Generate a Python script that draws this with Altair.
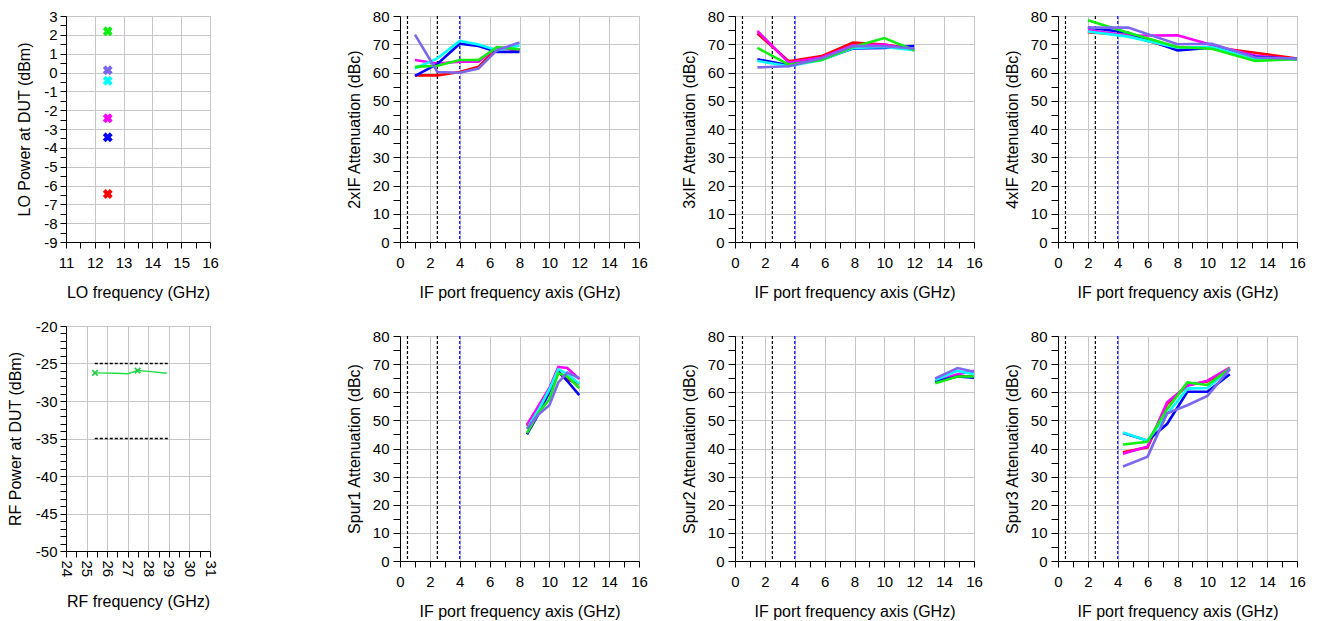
import altair as alt
import pandas as pd

# ---------------- data ----------------
SERIES = ["s1", "s2", "s3", "s4", "s5", "s6"]
COLORS = ["#ff0000", "#ff00ff", "#0000ff", "#00ffff", "#11ee11", "#7b68ee"]

LO_FREQ = [12.45, 12.45, 12.45, 12.45, 12.45, 12.45]
LO_POWER = [-6.45, -2.43, -3.44, -0.44, 2.19, 0.12]

RF_FREQ = [25.41, 26.4, 27.0, 27.48, 28.0, 28.9]
RF_POWER = [-26.25, -26.3, -26.35, -25.95, -26.05, -26.3]
RF_MARK_FREQ = [25.41, 27.48]
RF_MARK_POWER = [-26.25, -25.95]
RF_LIMIT_LEVEL = [-25, -35]
RF_LIMIT_START = [25.4, 25.4]
RF_LIMIT_END = [28.95, 28.95]

VLINE_BLACK = [0.5, 2.5]
VLINE_BLUE = [4]

IF_2X = [1, 2.5, 4, 5.25, 6.5, 8]
ATT_2X = {
    "s1": [59.0, 59.0, 60.2, 62.0, 68.7, 68.0],
    "s2": [64.4, 63.2, 63.8, 63.8, 69.0, 68.0],
    "s3": [58.8, 63.0, 70.2, 69.4, 67.3, 67.3],
    "s4": [61.4, 65.0, 71.2, 69.9, 67.9, 69.6],
    "s5": [62.0, 62.4, 64.4, 64.4, 69.0, 68.2],
    "s6": [73.4, 60.2, 59.9, 61.4, 67.9, 70.6],
}

IF_3X = [1.5, 3.6, 5.8, 7.9, 10, 12]
ATT_3X = {
    "s1": [73.8, 64.0, 65.8, 70.6, 69.9, 68.2],
    "s2": [74.7, 63.5, 65.3, 69.6, 69.9, 67.9],
    "s3": [64.7, 62.6, 64.6, 68.5, 68.7, 69.4],
    "s4": [64.1, 62.2, 64.4, 68.7, 69.0, 67.9],
    "s5": [68.7, 62.8, 64.4, 69.0, 72.2, 67.9],
    "s6": [61.8, 62.2, 65.0, 69.4, 69.3, 68.5],
}

IF_4X = [2, 4.7, 8, 10.3, 13.2, 16]
ATT_4X = {
    "s1": [74.3, 73.2, 68.2, 69.0, 67.0, 64.9],
    "s2": [75.0, 73.0, 73.2, 69.7, 66.0, 64.7],
    "s3": [75.9, 74.1, 67.8, 68.8, 65.6, 64.7],
    "s4": [74.5, 72.7, 68.8, 69.0, 64.9, 64.7],
    "s5": [78.5, 74.1, 69.0, 68.4, 64.1, 64.7],
    "s6": [75.9, 75.9, 70.0, 70.2, 65.3, 64.9],
}

IF_SPUR1 = [8.5, 9.25, 10, 10.6, 11.2, 12]
ATT_SPUR1 = {
    "s1": [48.0, 54.5, 61.0, 67.0, 64.5, 63.0],
    "s2": [48.5, 55.0, 61.5, 69.0, 68.6, 64.7],
    "s3": [45.0, 52.0, 60.0, 67.5, 64.0, 59.0],
    "s4": [47.0, 53.5, 61.0, 68.2, 66.5, 63.0],
    "s5": [45.5, 52.5, 57.5, 66.8, 65.6, 61.5],
    "s6": [47.0, 52.0, 55.4, 63.5, 67.0, 65.0],
}

IF_SPUR2 = [13.4, 14.9, 16]
ATT_SPUR2 = {
    "s1": [63.8, 65.8, 65.6],
    "s2": [64.0, 66.4, 67.6],
    "s3": [63.8, 65.6, 65.2],
    "s4": [64.3, 67.6, 66.4],
    "s5": [63.2, 65.6, 65.6],
    "s6": [64.9, 68.6, 67.3],
}

IF_SPUR3 = [4.35, 6.0, 7.3, 8.66, 10.0, 11.5]
ATT_SPUR3 = {
    "s1": [38.7, 40.4, 55.8, 62.5, 63.8, 68.2],
    "s2": [38.1, 40.7, 56.4, 62.3, 64.1, 68.8],
    "s3": [45.5, 42.8, 48.7, 60.2, 60.2, 66.4],
    "s4": [45.7, 42.8, 52.2, 61.3, 61.5, 68.2],
    "s5": [41.4, 42.4, 54.0, 63.5, 62.6, 68.4],
    "s6": [33.6, 37.1, 52.5, 55.4, 58.7, 68.2],
}

# ---------------- styling helpers ----------------
FONT = "Liberation Sans"
IF_W = 239
TOP_H = 226
BOT_H = 225


def steps(lo, hi, step):
    n = int(round((hi - lo) / step))
    return [lo + i * step for i in range(n + 1)]


def make_axis(values, test, title, tick, extent, tpad, lpad, angle=None):
    kw = dict(
        values=values,
        title=title,
        labelExpr=f"({test}) ? '' + datum.value : ''",
        tickSize=tick,
        ticks=True,
        tickColor="black",
        tickWidth=1,
        labelOverlap=False,
        labelFlush=False,
        labelBound=False,
        labelPadding=lpad,
        titlePadding=tpad,
        minExtent=extent,
        maxExtent=extent,
        grid=True,
        gridOpacity={"condition": {"test": test, "value": 1}, "value": 0},
        labelFont=FONT, labelFontSize=15, titleFont=FONT, titleFontSize=16,
        titleFontWeight="normal", labelColor="black", titleColor="black",
        domainColor="black",
    )
    if angle:
        kw["labelAngle"] = angle
        kw["labelAlign"] = "left"
        kw["labelBaseline"] = "middle"
    return alt.Axis(**kw)


IF_X = dict(scale=alt.Scale(domain=[0, 16], nice=False, zero=False),
            axis=make_axis(steps(0, 16, 1), "datum.value % 2 === 0",
                           "IF port frequency axis (GHz)", 6, 28, 14, 7))

color_enc = alt.Color("s:N", scale=alt.Scale(domain=SERIES, range=COLORS), legend=None)


def if_panel(xs, series, ytitle, height):
    rows = []
    for k, name in enumerate(SERIES):
        for x, v in zip(xs, series[name]):
            rows.append({"f": x, "a": v, "s": name, "k": k})
    df = pd.DataFrame(rows)
    blk = alt.Chart(pd.DataFrame({"f": VLINE_BLACK})).mark_rule(
        color="black", strokeDash=[3, 2], strokeWidth=1.2
    ).encode(x=alt.X("f:Q", **IF_X))
    blu = alt.Chart(pd.DataFrame({"f": VLINE_BLUE})).mark_rule(
        color="#0000ff", strokeDash=[3, 2], strokeWidth=1.2
    ).encode(x=alt.X("f:Q", **IF_X))
    lines = alt.Chart(df).mark_line(strokeWidth=2.6).encode(
        x=alt.X("f:Q", **IF_X),
        y=alt.Y("a:Q", scale=alt.Scale(domain=[0, 80], nice=False),
                axis=make_axis(steps(0, 80, 5), "datum.value % 10 === 0", ytitle, 7, 28, 10, 4)),
        color=color_enc,
        detail="k:O",
    )
    return alt.layer(blk, blu, lines).properties(width=IF_W, height=height)


# LO panel
lo_df = pd.DataFrame({"f": LO_FREQ, "p": LO_POWER, "s": SERIES})
lo = alt.Chart(lo_df).mark_point(shape="cross", angle=45, filled=True, size=100, opacity=1).encode(
    x=alt.X("f:Q", scale=alt.Scale(domain=[11, 16], nice=False, zero=False),
            axis=make_axis(steps(11, 16, 0.5), "datum.value % 1 === 0", "LO frequency (GHz)", 6, 28, 14, 7)),
    y=alt.Y("p:Q", scale=alt.Scale(domain=[-9, 3], nice=False, zero=False),
            axis=make_axis(steps(-9, 3, 0.5), "datum.value % 1 === 0", "LO Power at DUT (dBm)", 6, 25, 9, 3)),
    color=color_enc,
).properties(width=144, height=TOP_H)

# RF panel
rf_x = alt.X("f:Q", scale=alt.Scale(domain=[24, 31], nice=False, zero=False),
             axis=make_axis(steps(24, 31, 0.5), "datum.value % 1 === 0", "RF frequency (GHz)", 6, 28, 14, 3, angle=90))
rf_y = alt.Y("p:Q", scale=alt.Scale(domain=[-50, -20], nice=False, zero=False),
             axis=make_axis(steps(-50, -20, 1), "datum.value % 5 === 0", "RF Power at DUT (dBm)", 6, 33, 10, 3))
lim_df = pd.DataFrame({"f": RF_LIMIT_START, "f2": RF_LIMIT_END, "p": RF_LIMIT_LEVEL})
rf_lim = alt.Chart(lim_df).mark_rule(color="black", strokeDash=[3, 2], strokeWidth=1.5).encode(
    x=rf_x, x2="f2:Q", y=rf_y)
rf_line = alt.Chart(pd.DataFrame({"f": RF_FREQ, "p": RF_POWER})).mark_line(
    color="#22dd44", strokeWidth=1.5).encode(x=rf_x, y=rf_y)
rf_mark = alt.Chart(pd.DataFrame({"f": RF_MARK_FREQ, "p": RF_MARK_POWER})).mark_point(
    shape="M-1,-1L1,1M-1,1L1,-1", filled=False, color="#22cc44", strokeWidth=1.5, size=30, opacity=1
).encode(x=rf_x, y=rf_y)
rf = alt.layer(rf_lim, rf_line, rf_mark).properties(width=144, height=BOT_H)

p2 = if_panel(IF_2X, ATT_2X, "2xIF Attenuation (dBc)", TOP_H)
p3 = if_panel(IF_3X, ATT_3X, "3xIF Attenuation (dBc)", TOP_H)
p4 = if_panel(IF_4X, ATT_4X, "4xIF Attenuation (dBc)", TOP_H)
s1 = if_panel(IF_SPUR1, ATT_SPUR1, "Spur1 Attenuation (dBc)", BOT_H)
s2 = if_panel(IF_SPUR2, ATT_SPUR2, "Spur2 Attenuation (dBc)", BOT_H)
s3 = if_panel(IF_SPUR3, ATT_SPUR3, "Spur3 Attenuation (dBc)", BOT_H)

col1 = alt.vconcat(lo, rf, spacing=17)
col2 = alt.vconcat(p2, s1, spacing=27)
col3 = alt.vconcat(p3, s2, spacing=27)
col4 = alt.vconcat(p4, s3, spacing=27)

right = alt.hconcat(col3, col4, spacing=20)
mid = alt.hconcat(col2, right, spacing=32)
chart = alt.hconcat(col1, mid, spacing=126).properties(
    padding={"left": 6, "top": 8, "right": 4, "bottom": 4}
).configure_axis(
    domainWidth=1, gridColor="#c6c6c6", gridWidth=1,
).configure_view(stroke="#9a9a9a", strokeWidth=1)

chart.save("out.html", embed_options={"renderer": "svg", "actions": False})
